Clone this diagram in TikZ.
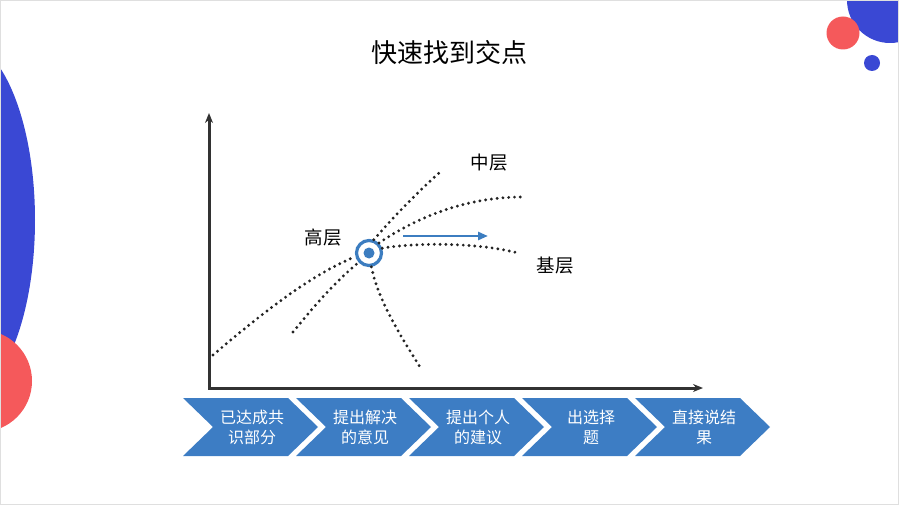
\documentclass[tikz,border=0pt]{standalone}
\usepackage{fontspec}
\setmainfont{Noto Sans CJK SC}
\usetikzlibrary{arrows.meta}
\definecolor{bgblue}{RGB}{58,72,212}
\definecolor{bgred}{RGB}{245,89,91}
\definecolor{tblue}{RGB}{60,125,192}
\definecolor{chevblue}{RGB}{61,125,196}
\definecolor{axisgray}{RGB}{50,50,50}
\definecolor{dotgray}{RGB}{35,35,35}
\tikzset{
  axisline/.style={draw=axisgray, line width=3pt},
  dotcurve/.style={draw=dotgray, line width=3.2pt, line cap=round, dash pattern=on 0pt off 5.8pt},
  lbl/.style={font=\fontsize{18.5}{22}\selectfont, text=black, inner sep=0pt},
  chevfill/.style={fill=chevblue},
  chevtext/.style={font=\fontsize{16}{20}\selectfont, text=white, align=center, inner sep=0pt},
}
\begin{document}
\begin{tikzpicture}[x=1pt,y=-1pt]
\useasboundingbox (0,0) rectangle (899,505);
\begin{scope}
  \clip (0,0) rectangle (899,505);
  \fill[bgblue] (-40,220) ellipse [x radius=75, y radius=180];
  \fill[bgred] (-19,381) circle [radius=51];
  \fill[bgblue] (890,0) circle [radius=43];
  \fill[bgred] (843,33) circle [radius=16.5];
  \fill[bgblue] (872,63) circle [radius=8];
\end{scope}
\draw[gray!25, line width=1pt] (0.5,0.5) rectangle (898.5,504.5);

% title
\node[font=\fontsize{26}{30}\selectfont, inner sep=0pt] (title) at (449,53) {快速找到交点};

% axes
\coordinate (ytop) at (209,113);
\coordinate (origin) at (209,388);
\coordinate (xend) at (703,388);
\draw[axisline, {Stealth[length=10pt,width=8pt]}-{Stealth[length=10pt,width=8pt]}] (ytop) -- (origin) -- (xend);

% intersection marker
\node[circle, draw=tblue, fill=white, line width=3.2pt, minimum size=25pt, inner sep=0pt] (X) at (369,253) {};
\fill[tblue] (X.center) circle [radius=5.5];

% dotted curves
\coordinate (c1s) at (213,355);
\coordinate (c2s) at (293,332);
\coordinate (c3e) at (439,173);
\coordinate (c4e) at (522,197);
\coordinate (c5e) at (518,253);
\coordinate (c6e) at (420,367);
\draw[dotcurve] (c1s) .. controls (260,315) and (310,275) .. (X.195);
\draw[dotcurve] (c2s) .. controls (315,305) and (335,282) .. (X.222);
\draw[dotcurve] (X.70) .. controls (395,215) and (420,190) .. (c3e);
\draw[dotcurve] (X.45) .. controls (420,215) and (470,197) .. (c4e);
\draw[dotcurve] (X.20) .. controls (420,242) and (480,243) .. (c5e);
\draw[dotcurve] (X.280) .. controls (378,300) and (400,335) .. (c6e);

% arrow
\coordinate (arS) at (403,236);
\coordinate (arE) at (488,236);
\draw[tblue, line width=2.8pt, -{Triangle[length=10pt,width=8pt]}] (arS) -- (arE);

% labels
\node[lbl] (gao) at (323,238) {高层};
\node[lbl] (zhong) at (489,163) {中层};
\node[lbl] (ji) at (555,266) {基层};

% chevrons
\foreach \i/\t in {0/{已达成共\\识部分}, 1/{提出解决\\的意见}, 2/{提出个人\\的建议}, 3/{出选择\\题}, 4/{直接说结\\果}}{
  \pgfmathsetmacro{\xa}{183+113*\i}
  \fill[chevfill] (\xa,398) -- ++(105,0) -- ++(30,29) -- ++(-30,29) -- ++(-105,0) -- ++(30,-29) -- cycle;
  \node[chevtext] (chev\i) at (\xa+69,427) {\t};
}
\end{tikzpicture}
\end{document}
